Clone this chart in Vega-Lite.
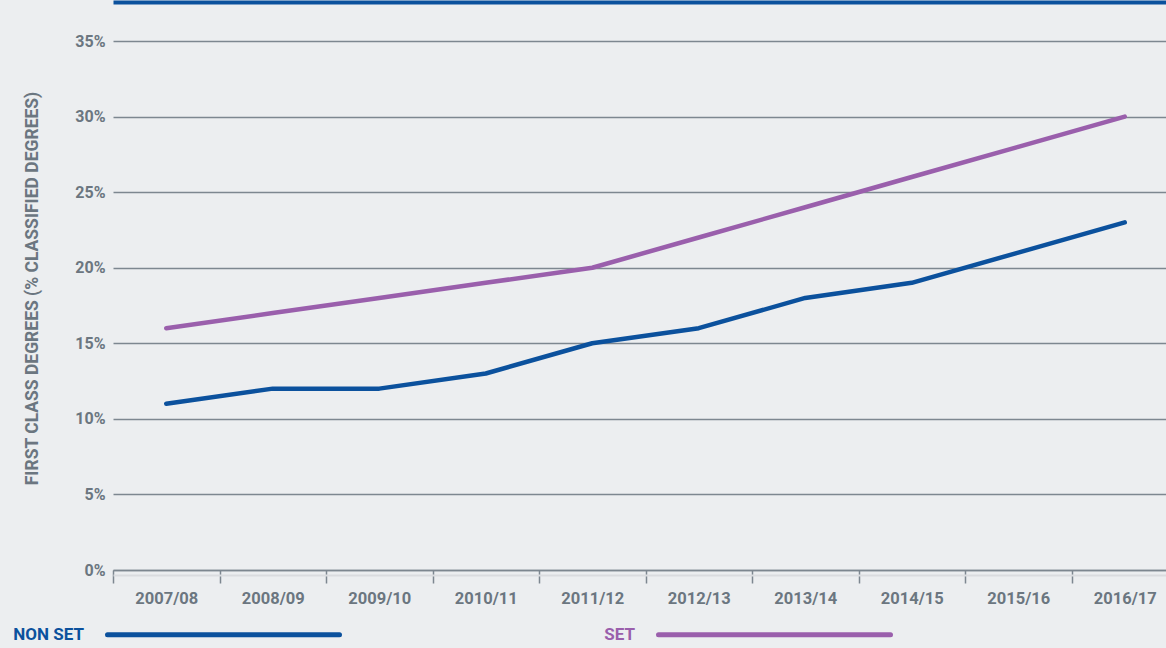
{
  "$schema": "https://vega.github.io/schema/vega-lite/v6.json",
  "autosize": "none",
  "width": 1053,
  "height": 529,
  "padding": {"left": 113, "top": 41, "right": 0, "bottom": 78},
  "background": "#eceef0",
  "config": {
    "view": {"stroke": null},
    "font": "Roboto",
    "axis": {"labelFont": "Roboto", "titleFont": "Roboto"},
    "legend": {"labelFont": "Roboto"}
  },
  "data": {
    "values": [
      {"year": "2007/08", "group": "NON SET", "value": 11},
      {"year": "2008/09", "group": "NON SET", "value": 12},
      {"year": "2009/10", "group": "NON SET", "value": 12},
      {"year": "2010/11", "group": "NON SET", "value": 13},
      {"year": "2011/12", "group": "NON SET", "value": 15},
      {"year": "2012/13", "group": "NON SET", "value": 16},
      {"year": "2013/14", "group": "NON SET", "value": 18},
      {"year": "2014/15", "group": "NON SET", "value": 19},
      {"year": "2015/16", "group": "NON SET", "value": 21},
      {"year": "2016/17", "group": "NON SET", "value": 23},
      {"year": "2007/08", "group": "SET", "value": 16},
      {"year": "2008/09", "group": "SET", "value": 17},
      {"year": "2009/10", "group": "SET", "value": 18},
      {"year": "2010/11", "group": "SET", "value": 19},
      {"year": "2011/12", "group": "SET", "value": 20},
      {"year": "2012/13", "group": "SET", "value": 22},
      {"year": "2013/14", "group": "SET", "value": 24},
      {"year": "2014/15", "group": "SET", "value": 26},
      {"year": "2015/16", "group": "SET", "value": 28},
      {"year": "2016/17", "group": "SET", "value": 30}
    ]
  },
  "layer": [
    {
      "mark": {"type": "line", "strokeWidth": 4.5, "strokeCap": "round", "strokeJoin": "round"},
      "encoding": {
        "x": {
          "field": "year", "type": "ordinal",
          "scale": {"range": [0, 1065], "paddingInner": 0, "paddingOuter": 0},
          "axis": {
            "title": null, "labelAngle": 0, "labelFontSize": 16.5, "labelFontWeight": "bold",
            "labelColor": "#6b7680", "labelPadding": 7, "tickBand": "extent", "tickSize": 13,
            "tickColor": "#7d8790", "tickWidth": 1.5, "domainColor": "#7d8790", "domainWidth": 1.5,
            "grid": false
          }
        },
        "y": {
          "field": "value", "type": "quantitative",
          "scale": {"domain": [0, 35], "nice": false},
          "axis": {
            "title": "FIRST CLASS DEGREES (% CLASSIFIED DEGREES)",
            "titleFontSize": 17.5, "titleFontWeight": "bold", "titleColor": "#6b7680",
            "titleX": -81, "titleY": 247, "titleAngle": -90, "titleBaseline": "middle", "titleAlign": "center",
            "values": [0, 5, 10, 15, 20, 25, 30, 35],
            "labelExpr": "datum.value + '%'",
            "labelFontSize": 16, "labelFontWeight": "bold", "labelColor": "#6b7680",
            "labelPadding": 8, "ticks": false, "domain": false,
            "grid": true, "gridColor": "#7d8790", "gridWidth": 1.3
          }
        },
        "color": {
          "field": "group", "type": "nominal",
          "scale": {"domain": ["NON SET", "SET"], "range": ["#0b519d", "#9a5fac"]},
          "legend": {
            "orient": "none", "legendX": -8, "legendY": 475, "direction": "horizontal",
            "title": null, "symbolType": "stroke", "symbolSize": 53824, "symbolStrokeWidth": 5,
            "labelFontSize": 17, "labelFontWeight": "bold", "labelAlign": "right",
            "labelOffset": -258, "columnPadding": 254, "labelLimit": 200,
            "encode": {
              "symbols": {"update": {"strokeCap": {"value": "round"}}},
              "labels": {"update": {"fill": {"signal": "datum.value == 'SET' ? '#9a5fac' : '#0b519d'"}}}
            }
          }
        }
      }
    },
    {
      "mark": {"type": "rule", "opacity": 0},
      "encoding": {
        "x": {
          "field": "year", "type": "ordinal",
          "axis": {
            "orient": "top", "title": null, "labels": false, "ticks": false,
            "domainColor": "#0b519d", "domainWidth": 4, "offset": 39, "grid": false
          }
        }
      }
    },
    {
      "mark": {"type": "rule", "opacity": 0},
      "encoding": {
        "x": {
          "field": "year", "type": "ordinal",
          "axis": {
            "orient": "bottom", "title": null, "labels": false, "ticks": false,
            "domainColor": "#dadcdf", "domainWidth": 2, "offset": 5, "grid": false
          }
        }
      }
    }
  ],
  "resolve": {"axis": {"x": "independent"}}
}
